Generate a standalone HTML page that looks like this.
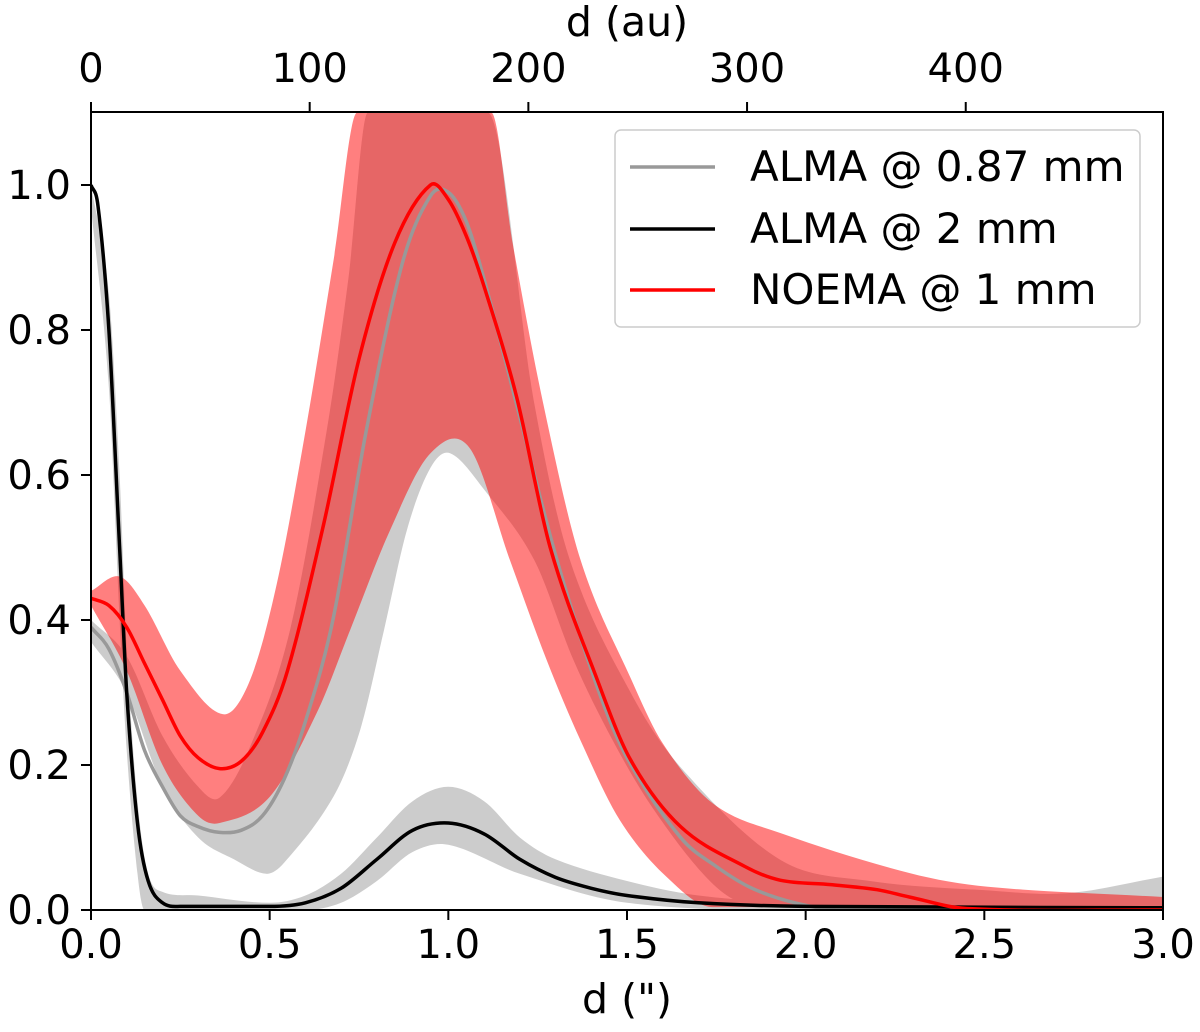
<!DOCTYPE html>
<html><head><meta charset="utf-8"><style>
html,body{margin:0;padding:0;background:#fff;}
svg text{font-family:"DejaVu Sans","Liberation Sans",sans-serif;fill:#000;}
</style></head><body>
<svg id="chart" width="1200" height="1027" viewBox="0 0 1200 1027">
<defs><clipPath id="clip"><rect x="91" y="112" width="1072" height="798"/></clipPath></defs>
<g id="bands" clip-path="url(#clip)"></g>
<g id="lines" clip-path="url(#clip)"></g>
<rect x="91" y="112" width="1072" height="798" fill="none" stroke="#000" stroke-width="2"/>
<g id="axes"></g>
<text x="627" y="1013" font-size="41" text-anchor="middle">d (")</text>
<text x="627" y="36" font-size="41" text-anchor="middle">d (au)</text>
<g>
<rect x="615" y="130" width="525" height="197" rx="6" fill="#fff" fill-opacity="0.8" stroke="#ccc" stroke-width="1.5"/>
<line x1="630" y1="167" x2="715" y2="167" stroke="#999" stroke-width="3.5"/>
<text x="750" y="181" font-size="42">ALMA @ 0.87 mm</text>
<line x1="630" y1="229" x2="715" y2="229" stroke="#000" stroke-width="3.5"/>
<text x="750" y="243" font-size="42">ALMA @ 2 mm</text>
<line x1="630" y1="290" x2="715" y2="290" stroke="#f00" stroke-width="3.5"/>
<text x="750" y="304" font-size="42">NOEMA @ 1 mm</text>
</g>
</svg>
<script>
const xTicks=[0,0.5,1.0,1.5,2.0,2.5,3.0];
const xTickLabels=["0.0","0.5","1.0","1.5","2.0","2.5","3.0"];
const yTicks=[0,0.2,0.4,0.6,0.8,1.0];
const yTickLabels=["0.0","0.2","0.4","0.6","0.8","1.0"];
const auTicks=[0,100,200,300,400];
const auPerArcsec=163.4;
// ALMA 0.87 mm
const g87x=[0,0.05,0.1,0.15,0.2,0.25,0.3,0.36,0.42,0.48,0.54,0.6,0.677,0.77,0.87,0.95,1.0,1.05,1.1,1.2,1.3,1.415,1.5,1.65,1.75,1.85,1.97,2.1,3.0];
const g87y=[0.39,0.36,0.3,0.22,0.17,0.13,0.115,0.107,0.11,0.13,0.18,0.26,0.40,0.66,0.89,0.985,0.99,0.95,0.87,0.68,0.49,0.31,0.21,0.1,0.06,0.03,0.01,0,0];
const g87lx=[0,0.1,0.2,0.3,0.4,0.49,0.54,0.678,0.753,0.82,0.884,0.95,1.005,1.1,1.24,1.35,1.46,1.57,1.72,1.82,2.0,3.0];
const g87lo=[0.37,0.3,0.17,0.1,0.07,0.05,0.065,0.156,0.248,0.386,0.524,0.61,0.63,0.58,0.483,0.345,0.234,0.142,0.046,0.01,0,0];
const g87ux=[0,0.1,0.2,0.3,0.36,0.445,0.557,0.66,0.72,0.775,1.11,1.24,1.34,1.51,1.65,1.93,2.18,2.51,2.73,3.0];
const g87up=[0.40,0.35,0.24,0.17,0.155,0.225,0.386,0.662,0.87,1.1,1.1,0.70,0.483,0.30,0.197,0.069,0.04,0.027,0.023,0.046];
// ALMA 2 mm
const b2x=[0,0.02,0.05,0.08,0.1,0.13,0.16,0.2,0.25,0.5,0.6,0.7,0.8,0.9,1.0,1.1,1.2,1.3,1.4,1.5,1.7,2.0,3.0];
const b2y=[1.0,0.97,0.8,0.5,0.3,0.12,0.04,0.01,0.005,0.005,0.01,0.03,0.07,0.11,0.12,0.105,0.07,0.045,0.03,0.02,0.01,0.005,0.003];
const b2lx=[0,0.05,0.08,0.1,0.13,0.15,0.6,0.7,0.8,0.9,1.0,1.2,1.5,2.0,3.0];
const b2lo=[0.97,0.72,0.4,0.22,0.05,0.0,0,0.01,0.04,0.08,0.09,0.05,0.01,0,0];
const b2ux=[0,0.05,0.08,0.1,0.13,0.16,0.2,0.3,0.5,0.6,0.7,0.8,0.9,1.0,1.1,1.2,1.3,1.5,1.7,2.0,3.0];
const b2up=[1.0,0.85,0.6,0.36,0.15,0.05,0.025,0.02,0.01,0.02,0.05,0.1,0.15,0.17,0.15,0.1,0.07,0.04,0.02,0.01,0.005];
// NOEMA 1 mm
const rx=[0,0.05,0.1,0.15,0.2,0.25,0.3,0.36,0.42,0.48,0.55,0.65,0.75,0.85,0.95,1.0,1.05,1.1,1.19,1.285,1.415,1.51,1.65,1.83,1.93,2.07,2.2,2.29,2.45,3.0];
const ry=[0.43,0.42,0.39,0.34,0.29,0.24,0.21,0.195,0.205,0.245,0.33,0.53,0.76,0.92,1.0,0.98,0.93,0.86,0.71,0.50,0.32,0.207,0.115,0.06,0.041,0.035,0.028,0.018,0.002,0];
const rlx=[0,0.1,0.2,0.3,0.36,0.5,0.632,0.725,0.837,0.95,1.06,1.172,1.275,1.37,1.48,1.61,1.74,2.0,3.0];
const rlo=[0.42,0.33,0.2,0.13,0.12,0.156,0.272,0.386,0.524,0.63,0.637,0.483,0.345,0.234,0.124,0.046,0.004,0.004,0.004];
const rux=[0,0.08,0.15,0.25,0.37,0.445,0.52,0.6,0.68,0.745,1.12,1.18,1.265,1.37,1.51,1.60,1.74,1.93,2.29,2.51,3.0];
const rup=[0.44,0.46,0.42,0.33,0.27,0.317,0.45,0.66,0.9,1.1,1.1,0.92,0.70,0.483,0.32,0.23,0.147,0.106,0.051,0.032,0.018];

const X=v=>91+v*357.33, Y=v=>910-v*725;
const NS="http://www.w3.org/2000/svg";
function mk(tag,attrs,parent){const e=document.createElementNS(NS,tag);for(const k in attrs)e.setAttribute(k,attrs[k]);parent.appendChild(e);return e;}
function pts(xs,ys){const n=xs.length,m=[];
 for(let i=0;i<n;i++){const a=Math.max(0,i-1),b=Math.min(n-1,i+1);m.push((ys[b]-ys[a])/(xs[b]-xs[a]));}
 for(let i=0;i<n-1;i++){const s=(ys[i+1]-ys[i])/(xs[i+1]-xs[i]);if(s===0){m[i]=0;m[i+1]=0;}}
 let segs=[];
 for(let i=0;i<n-1;i++){const dx=xs[i+1]-xs[i];
  segs.push([X(xs[i]+dx/3),Y(ys[i]+m[i]*dx/3),X(xs[i+1]-dx/3),Y(ys[i+1]-m[i+1]*dx/3),X(xs[i+1]),Y(ys[i+1])]);}
 return segs;}
function f(v){return v.toFixed(1);}
function smooth(xs,ys){let d="M"+f(X(xs[0]))+","+f(Y(ys[0]));
 pts(xs,ys).forEach(s=>{d+=" C"+s.map(f).join(" ");});return d;}
function smoothRev(xs,ys){const n=xs.length,segs=pts(xs,ys);let d="";
 for(let i=n-2;i>=0;i--){const s=segs[i];d+=" C"+[s[2],s[3],s[0],s[1],X(xs[i]),Y(ys[i])].map(f).join(" ");}
 return d;}
function band(ux,uy,lx,ly){return smooth(ux,uy)+" L"+f(X(lx[lx.length-1]))+","+f(Y(ly[ly.length-1]))+smoothRev(lx,ly)+" Z";}
const bands=document.getElementById('bands'),lines=document.getElementById('lines'),axes=document.getElementById('axes');
let e;
e=mk('path',{d:band(g87ux,g87up,g87lx,g87lo),fill:'#cccccc'},bands);


e=mk('path',{d:band(b2ux,b2up,b2lx,b2lo),fill:'#cccccc'},bands);


e=mk('path',{d:band(rux,rup,rlx,rlo),fill:'#ff0000','fill-opacity':0.5},bands);


e=mk('path',{d:smooth(g87x,g87y),fill:'none',stroke:'#999','stroke-width':3.5},lines);


e=mk('path',{d:smooth(b2x,b2y),fill:'none',stroke:'#000','stroke-width':3.5},lines);


e=mk('path',{d:smooth(rx,ry),fill:'none',stroke:'#f00','stroke-width':3.5},lines);


xTicks.forEach((v,i)=>{
 e=mk('line',{x1:X(v),x2:X(v),y1:910,y2:920,stroke:'#000','stroke-width':2},axes);
 
 
 e=mk('text',{x:X(v),y:958,'font-size':40,'text-anchor':'middle'},axes);e.textContent=xTickLabels[i];
 
 
});
yTicks.forEach((v,i)=>{
 e=mk('line',{x1:81,x2:91,y1:Y(v),y2:Y(v),stroke:'#000','stroke-width':2},axes);
 
 
 e=mk('text',{x:71,y:Y(v)+14,'font-size':40,'text-anchor':'end'},axes);e.textContent=yTickLabels[i];
 
 
});
auTicks.forEach(v=>{
 const px=X(v/auPerArcsec);
 e=mk('line',{x1:px,x2:px,y1:102,y2:112,stroke:'#000','stroke-width':2},axes);
 
 
 e=mk('text',{x:px,y:82,'font-size':40,'text-anchor':'middle'},axes);e.textContent=String(v);
 
 
});
</script>
</body></html>
